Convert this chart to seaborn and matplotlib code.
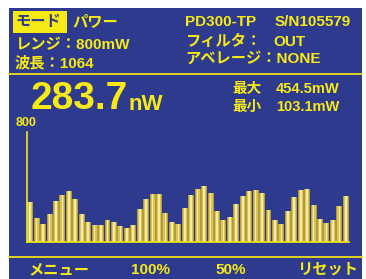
import numpy as np
import matplotlib
matplotlib.use("Agg")
import matplotlib.pyplot as plt
from matplotlib.patches import Rectangle
from matplotlib.lines import Line2D
import seaborn as sns

# trend samples (mW)
BAR_VALUES = [291, 175, 133, 206, 296, 344, 368, 315, 206, 145,
              126, 126, 158, 148, 116, 99, 121, 238, 310, 347,
              347, 213, 148, 128, 250, 339, 383, 407, 356, 223,
              158, 182, 279, 332, 368, 376, 356, 235, 158, 133,
              225, 327, 376, 388, 271, 170, 141, 162, 259, 332]
Y_MAX = 800
READING = "283.7"
READING_UNIT = "nW"
STATS_LABELS = ["最大", "最小"]
STATS_VALUES = ["454.5mW", "103.1mW"]
SOFTKEYS = ["メニュー", "100%", "50%", "リセット"]

BLUE = "#2D3A8E"
YELLOW = "#F7EA14"
LINE_YELLOW = "#E2D222"
BAR_EDGE = "#B39B3A"
BAR_GOLD = "#D9C459"
BAR_HI = "#F6EBA2"

W, H = 366, 279

sns.set_theme(style="white")
plt.rcParams["font.family"] = ["Liberation Sans", "Noto Sans CJK JP"]
plt.rcParams["font.weight"] = "bold"


def px(x, y):
    return x / W, 1 - y / H


fig = plt.figure(figsize=(W / 100, H / 100), dpi=100)
fig.patch.set_facecolor("white")

# screen background
x0, y0 = px(9, 279)
x1, y1 = px(362, 8)
fig.add_artist(Rectangle((x0, y0), x1 - x0, y1 - y0, transform=fig.transFigure,
                         facecolor=BLUE, edgecolor="none", zorder=0))

# separators
for yy in (74, 257):
    a, b = px(9, yy)
    c, _ = px(362, yy)
    fig.add_artist(Line2D([a, c], [b, b], transform=fig.transFigure,
                          color=LINE_YELLOW, lw=1.4, zorder=1))

# header: mode box
bx, by = px(13, 33)
bx2, by2 = px(67, 11)
fig.add_artist(Rectangle((bx, by), bx2 - bx, by2 - by, transform=fig.transFigure,
                         facecolor=YELLOW, edgecolor="none", zorder=1))


def put(x, y, s, size=11, color=YELLOW, ha="left", va="center"):
    fx, fy = px(x, y)
    fig.text(fx, fy, s, fontsize=size, color=color, ha=ha, va=va,
             fontweight="bold", zorder=3)


put(15, 22, "モード", color=BLUE)
put(72, 22, "パワー")
put(15, 45, "レンジ：800mW")
put(15, 63, "波長：1064")
put(185, 22, "PD300-TP")
put(275, 22, "S/N105579")
put(185, 42, "フィルタ：")
put(273, 42, "OUT")
put(185, 59, "アベレージ：NONE")

# big reading
put(31, 99, READING, size=28)
put(128, 104, READING_UNIT, size=16)

for i, (lab, val) in enumerate(zip(STATS_LABELS, STATS_VALUES)):
    yy = 89 + i * 18
    put(232, yy, lab, size=10.5)
    put(276, yy, val, size=10.5)

put(16, 123, str(Y_MAX), size=9)

# soft keys
for s, xx in zip(SOFTKEYS, [28, 131, 215, 297]):
    put(xx, 270, s, size=11)

# trend chart
left, bottom = px(27, 242)
right, top = px(349, 132)
ax = fig.add_axes([left, bottom, right - left, top - bottom])
ax.set_facecolor("none")
idx = np.arange(len(BAR_VALUES))
for colr, wd in ((BAR_EDGE, 0.92), (BAR_GOLD, 0.62), (BAR_HI, 0.26)):
    sns.barplot(x=idx, y=BAR_VALUES, ax=ax, color=colr, width=wd,
                saturation=1, linewidth=0)
ax.set_ylim(0, Y_MAX)
ax.set_xlim(-0.5, len(BAR_VALUES) - 0.5)
ax.set_xticks([])
ax.set_yticks([])
ax.set_xlabel("")
ax.set_ylabel("")
for side in ("top", "right"):
    ax.spines[side].set_visible(False)
for side in ("left", "bottom"):
    ax.spines[side].set_color(YELLOW)
    ax.spines[side].set_linewidth(1.2)

fig.savefig("out.png", dpi=100)
